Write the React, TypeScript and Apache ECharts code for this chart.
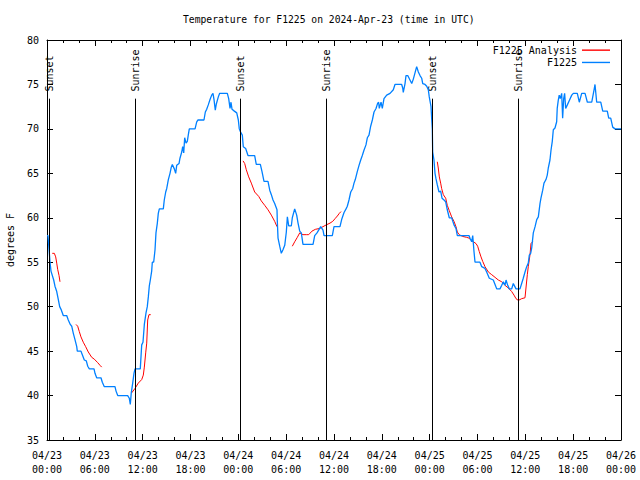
import React, { useEffect, useRef } from "react";
import * as echarts from "echarts";

// x values are hours after 2024-04-23 00:00 UTC
const tickLabels = [
  "04/23\n00:00", "04/23\n06:00", "04/23\n12:00", "04/23\n18:00",
  "04/24\n00:00", "04/24\n06:00", "04/24\n12:00", "04/24\n18:00",
  "04/25\n00:00", "04/25\n06:00", "04/25\n12:00", "04/25\n18:00",
  "04/26\n00:00",
];

const eventNames = ["Sunset", "Sunrise", "Sunset", "Sunrise", "Sunset", "Sunrise"];
const eventHours = [0.29, 11.08, 24.27, 35.04, 48.33, 59.12];

const f1225: [number, number][] = [
  [0,58],[0.12,58],[0.25,56.5],[0.38,55],[0.5,54],[0.84,53],[1.0,52.3],[1.22,51.7],[1.42,50.8],[1.59,50],[1.76,49.7],[2.04,49],[2.47,49],[2.67,48.5],[2.92,48],[3.1,47.8],[3.3,47],[3.51,46.3],[3.73,45.5],[3.8,45],[4.26,45],[4.43,44.6],[4.68,44],[4.93,43.9],[5.11,43.3],[5.31,43],[5.9,43],[6.02,42.5],[6.23,42],[6.77,42],[6.94,41.5],[7.19,41],[8.53,41],[8.66,40.5],[8.87,40],[10.12,40],[10.32,39.7],[10.45,39],[10.57,40.3],[10.75,41.4],[10.91,42.5],[11.04,43],[11.7,43],[11.88,45.7],[12.04,46],[12.21,48],[12.42,49.3],[12.58,50],[12.71,51.1],[12.83,52.3],[12.96,53],[13.13,54],[13.21,55],[13.38,55],[13.55,56.4],[13.67,58.3],[13.84,59.4],[13.96,60.5],[14.09,61],[14.59,61],[14.71,62],[14.89,62.9],[15.02,63.3],[15.22,64.3],[15.43,65],[15.59,65.7],[15.72,66],[15.97,65.5],[16.14,65],[16.27,65.9],[16.56,66.1],[16.68,66.7],[16.9,67.4],[17.02,68],[17.15,67.3],[17.27,69],[17.44,68.4],[17.6,68.6],[17.72,69.3],[17.85,70],[18.57,70],[18.78,70.8],[18.94,71],[19.69,71],[19.86,71.9],[20.03,72.2],[20.23,72.7],[20.45,73.3],[20.66,73.8],[20.82,74],[20.95,73.3],[21.11,72.1],[21.24,72.8],[21.49,73.6],[21.66,74],[22.62,74],[22.79,73.4],[22.96,72.3],[23.08,73],[23.21,72.2],[23.5,72],[23.8,71.8],[24.0,71],[24.12,70],[24.25,69.7],[24.5,69.3],[24.62,68],[24.92,67.8],[25.21,67],[26.05,67],[26.25,66],[26.76,66],[26.97,65.2],[27.22,64.1],[27.72,64.1],[27.94,63.1],[28.14,62.6],[28.35,62],[28.56,61.6],[28.85,60.9],[28.89,59.6],[28.98,57.7],[29.19,56.8],[29.39,56],[29.6,56.4],[29.82,56.9],[30.02,58.4],[30.15,60.1],[30.32,59.1],[30.65,59.1],[30.77,60],[31.07,61],[31.32,60.3],[31.49,59.4],[31.7,58.5],[31.9,58.3],[32.11,57],[33.37,57],[33.58,58],[33.87,58.3],[34.33,59],[34.62,58.6],[34.75,58],[35.79,58],[36.0,59],[36.75,59],[36.96,59.8],[37.26,60.6],[37.51,61],[37.67,61.3],[37.88,62],[38.1,62.9],[38.35,63.3],[38.51,63.9],[38.67,64.3],[38.92,65.2],[39.14,65.9],[39.35,66.5],[39.55,67],[39.76,67.6],[40.01,68.2],[40.18,69],[40.39,69.3],[40.6,70.3],[40.81,71],[41.02,71.9],[41.27,72.3],[41.48,72.9],[41.6,73],[41.68,72.3],[41.9,73],[42.06,72.3],[42.27,73.4],[42.61,73.8],[43.03,74],[43.44,74.4],[43.65,75],[44.49,75],[44.62,74.6],[44.69,74.1],[44.91,75.1],[45.03,76],[45.25,76],[45.53,75.5],[45.75,75.1],[45.95,75.6],[46.16,76.3],[46.37,77],[46.58,76.4],[46.79,76],[47.0,75.7],[47.13,75.1],[47.42,75],[47.63,74.8],[47.83,74.4],[47.95,73.6],[48.17,72.5],[48.26,71],[48.33,70],[48.38,67.4],[48.54,66.5],[48.67,65],[48.79,64.4],[48.96,63.7],[49.17,62.9],[49.38,63],[49.55,62.2],[49.8,62],[50.01,61.8],[50.21,60.9],[50.46,60],[50.76,60],[51.05,59.2],[51.3,58.8],[51.47,58],[52.93,58],[53.06,57.7],[53.27,57.3],[53.4,58],[53.56,56.2],[53.69,55],[54.31,55],[54.53,54.5],[54.94,54.3],[55.15,53.9],[55.48,53.2],[55.98,53],[56.2,52.5],[56.41,52],[56.82,52],[57.04,52.4],[57.24,52.8],[57.45,52.4],[57.58,53],[57.79,52.4],[57.99,52],[58.29,52],[58.49,52.6],[58.83,52],[59.33,52],[59.54,52.6],[59.74,53.2],[59.96,53.9],[60.17,54.5],[60.37,54.9],[60.5,55.8],[60.67,56],[60.8,56.6],[61.0,58.3],[61.22,59],[61.43,59.8],[61.63,60.1],[61.84,61.6],[61.96,62.2],[62.18,63.1],[62.34,63.9],[62.59,64.3],[62.75,64.8],[62.88,65.6],[63.09,66.5],[63.22,67.6],[63.38,68.6],[63.51,69.9],[63.72,70.1],[63.93,70.8],[64.0,72.3],[64.13,73.2],[64.25,73.8],[64.38,73.4],[64.56,74],[64.68,71.2],[64.81,73.4],[64.93,74],[65.06,72.3],[65.27,72.7],[65.52,73.2],[65.82,73.8],[66.02,74],[66.52,74],[66.77,73],[67.07,74],[67.49,74],[67.78,73],[68.33,73],[68.62,74.4],[68.74,75],[68.95,73],[69.46,73],[69.71,72],[70.28,72],[70.46,71.2],[70.71,71.2],[70.96,70.2],[71.25,70],[72,70],
];

const analysis1: [number, number][] = [[0.66,56],[0.92,56],[1.09,55.6],[1.22,54.9],[1.34,54.2],[1.51,53.5],[1.63,52.8]];
const analysis2: [number, number][] = [[3.64,48],[3.85,47.8],[4.05,47.2],[4.26,46.6],[4.55,46],[4.85,45.5],[5.18,44.9],[5.61,44.3],[5.93,44.1],[6.36,43.7],[6.65,43.4],[6.86,43.2]];
const analysis3: [number, number][] = [[10.62,40.3],[11.04,40.8],[11.45,41.4],[11.88,41.8],[12.08,42.3],[12.21,43.2],[12.38,44.8],[12.51,45.9],[12.63,48.5],[12.79,49.1],[13.01,49.1]];
const analysis4: [number, number][] = [[24.59,66.4],[24.8,66.1],[25.0,65.4],[25.3,64.6],[25.63,63.9],[26.05,62.9],[26.56,62.4],[26.88,61.9],[27.31,61.4],[27.72,60.9],[28.14,60.3],[28.56,59.6],[28.85,59.0]];
const analysis5: [number, number][] = [[30.77,56.8],[31.07,57.3],[31.4,57.8],[31.7,58.3],[32.11,58.1],[32.53,58.1],[32.83,58.1],[33.24,58.5],[33.66,58.7],[34.21,58.8],[34.62,59],[35.03,59.2],[35.5,59.4],[35.84,59.6],[36.13,59.9],[36.42,60.2],[36.67,60.5],[36.88,60.7]];
const analysis6: [number, number][] = [[48.96,66.3],[49.08,65.6],[49.21,64.6],[49.38,63.9],[49.5,63.3],[49.71,62.6],[50.01,62.2],[50.21,61.4],[50.46,60.8],[50.76,60.1],[51.05,59.6],[51.3,59],[51.47,58.4],[51.71,58.1],[52.14,57.9],[52.64,57.8],[52.97,57.7],[53.15,57.5],[53.48,57.3],[53.81,57.1],[54.02,56.8],[54.22,56.2],[54.44,55.6],[54.65,55.1],[54.94,54.5],[55.36,53.9],[55.78,53.6],[56.2,53.3],[56.61,53],[57.04,52.8],[57.45,52.4],[57.87,52.1],[58.29,51.7],[58.58,51.3],[58.83,50.9],[59.12,50.7],[59.54,50.9],[59.96,51],[60.08,52.1],[60.25,53.6],[60.37,54.5],[60.58,55.8],[60.71,57.1],[60.92,57.3]];
const analysisSegments = [analysis1, analysis2, analysis3, analysis4, analysis5, analysis6];

const EVENT_LINE_TOP = 73.4;
const EVENT_LABEL_BASE = 74.2;

const MONO = "'DejaVu Sans Mono', 'Liberation Mono', monospace";
const RED = "#ff0000";
const BLUE = "#0080ff";

export default function App() {
  const ref = useRef<HTMLDivElement>(null);
  useEffect(() => {
    if (!ref.current) return;
    const chart = echarts.init(ref.current, null, { renderer: "svg" });
    const textBase = { fontFamily: MONO, fontSize: 10, color: "#000" };
    const axisCommonX = {
      type: "value" as const,
      min: 0,
      max: 72,
      interval: 6,
      splitLine: { show: false },
      axisLine: { show: true, onZero: false, lineStyle: { color: "#000", width: 1 } },
      axisTick: { show: true, inside: true, length: 6, lineStyle: { color: "#000" } },
      minorTick: { show: true, splitNumber: 3, length: 3, lineStyle: { color: "#000" } },
    };
    const axisCommonY = {
      type: "value" as const,
      min: 35,
      max: 80,
      interval: 5,
      splitLine: { show: false },
      axisLine: { show: true, onZero: false, lineStyle: { color: "#000", width: 1 } },
      axisTick: { show: true, inside: true, length: 6, lineStyle: { color: "#000" } },
    };
    const series: any[] = analysisSegments.map((seg) => ({
      name: "F1225 Analysis",
      type: "line",
      data: seg,
      showSymbol: false,
      symbol: "none",
      lineStyle: { color: RED, width: 1 },
      itemStyle: { color: RED },
      silent: true,
    }));
    series.push({
      name: "F1225",
      type: "line",
      data: f1225,
      showSymbol: false,
      symbol: "none",
      lineStyle: { color: BLUE, width: 1.3 },
      itemStyle: { color: BLUE },
      silent: true,
    });
    series.push({
      name: "events",
      type: "scatter",
      symbolSize: 0,
      silent: true,
      itemStyle: { opacity: 1, color: "#000" },
      data: eventHours.map((h, i) => ({ name: eventNames[i], value: [h, EVENT_LABEL_BASE] })),
      label: {
        show: true,
        formatter: "{b}",
        position: "inside",
        rotate: 90,
        align: "left",
        verticalAlign: "middle",
        opacity: 1,
        ...textBase,
      },
      markLine: {
        silent: true,
        symbol: ["none", "none"],
        label: { show: false },
        lineStyle: { color: "#000", width: 1, type: "solid" },
        emphasis: { disabled: true },
        data: eventHours.map((h) => [{ coord: [h, 35] }, { coord: [h, EVENT_LINE_TOP] }]),
      },
    });

    chart.setOption({
      animation: false,
      backgroundColor: "#fff",
      title: {
        text: "Temperature for F1225 on 2024-Apr-23 (time in UTC)",
        left: 183,
        top: 14,
        padding: 0,
        textStyle: { ...textBase, fontSize: 9.7, fontWeight: "normal" },
      },
      legend: {
        data: ["F1225 Analysis", "F1225"],
        orient: "vertical",
        align: "right",
        right: 30,
        top: 44,
        padding: 0,
        itemGap: 0,
        itemWidth: 28,
        itemHeight: 1.4,
        icon: "rect",
        textStyle: { ...textBase, lineHeight: 12.3 },
      },
      grid: { left: 47, right: 19, top: 40, bottom: 40, containLabel: false, outerBoundsMode: "none" },
      xAxis: [
        {
          ...axisCommonX,
          position: "bottom",
          axisLabel: {
            ...textBase,
            lineHeight: 14,
            margin: 8,
            formatter: (v: number) => tickLabels[Math.round(v / 6)] ?? "",
          },
        },
        { ...axisCommonX, position: "top", axisLabel: { show: false } },
      ],
      yAxis: [
        {
          ...axisCommonY,
          position: "left",
          name: "degrees F",
          nameLocation: "middle",
          nameRotate: 90,
          nameGap: 32,
          nameTextStyle: { ...textBase },
          axisLabel: { ...textBase, margin: 8 },
        },
        { ...axisCommonY, position: "right", axisLabel: { show: false } },
      ],
      series,
    });
    return () => chart.dispose();
  }, []);
  return (
    <div
      ref={ref}
      style={{ position: "fixed", left: 0, top: 0, width: 640, height: 480, background: "#fff" }}
    />
  );
}
